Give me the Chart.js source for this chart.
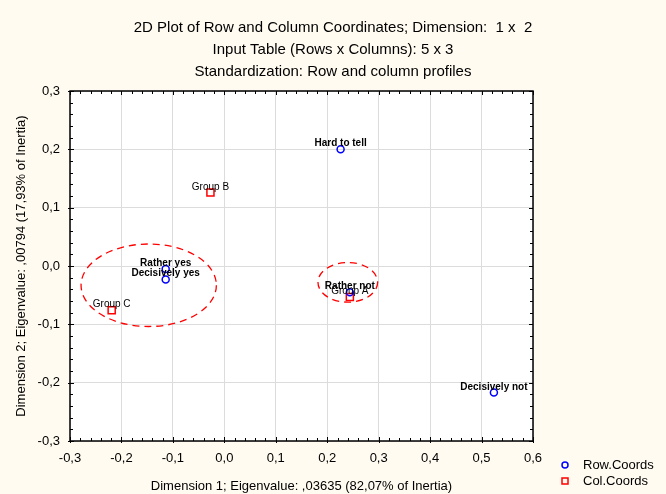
<!DOCTYPE html>
<html>
<head>
<meta charset="utf-8">
<script src="https://cdn.jsdelivr.net/npm/chart.js@4.4.1/dist/chart.umd.min.js"></script>
<style>
  body { margin: 0; background: #fffbf0; }
  #wrap { width: 666px; height: 494px; }
</style>
</head>
<body>
<div id="wrap"><canvas id="myChart" width="666" height="494"></canvas></div>
<script>
// row points (answers)
const rowLabels = ['Rather yes', 'Hard to tell', 'Rather not', 'Decisively yes', 'Decisively not'];
const rowX = [-0.114, 0.226, 0.244, -0.114, 0.524];
const rowY = [-0.005, 0.200, -0.045, -0.023, -0.217];

// column points (groups)
const colLabels = ['Group A', 'Group B', 'Group C'];
const colX = [0.244, -0.027, -0.219];
const colY = [-0.053, 0.126, -0.076];

// dashed ellipses (centre and radii, in data units)
const ellCx = [-0.147, 0.240];
const ellCy = [-0.033, -0.028];
const ellRx = [0.1315, 0.058];
const ellRy = [0.0707, 0.034];

const titleLines = [
  '2D Plot of Row and Column Coordinates; Dimension:  1 x  2',
  'Input Table (Rows x Columns): 5 x 3',
  'Standardization: Row and column profiles'
];
const xTitle = 'Dimension 1; Eigenvalue: ,03635 (82,07% of Inertia)';
const yTitle = 'Dimension 2; Eigenvalue: ,00794 (17,93% of Inertia)';
const legendNames = ['Row.Coords', 'Col.Coords'];

const FONT = 'Liberation Sans, Arial, sans-serif';
const fmt = v => (Math.round(v * 10) / 10).toFixed(1).replace('-0.0', '0.0').replace('.', ',');

const bgPlugin = {
  id: 'bg',
  beforeDraw(chart) {
    const ctx = chart.ctx, a = chart.chartArea;
    ctx.save();
    ctx.fillStyle = '#fffbf0';
    ctx.fillRect(0, 0, chart.width, chart.height);
    ctx.fillStyle = '#ffffff';
    ctx.fillRect(a.left, a.top, a.right - a.left, a.bottom - a.top);
    ctx.restore();
  }
};

const framePlugin = {
  id: 'frame',
  afterDatasetsDraw(chart) {
    const ctx = chart.ctx, a = chart.chartArea;
    const xs = chart.scales.x, ys = chart.scales.y;
    ctx.save();

    // ellipses
    ctx.strokeStyle = '#ff0000';
    ctx.lineWidth = 1.3;
    ctx.setLineDash([7, 5]);
    for (let i = 0; i < ellCx.length; i++) {
      const px = xs.getPixelForValue(ellCx[i]);
      const py = ys.getPixelForValue(ellCy[i]);
      const rx = Math.abs(xs.getPixelForValue(ellCx[i] + ellRx[i]) - px);
      const ry = Math.abs(ys.getPixelForValue(ellCy[i] + ellRy[i]) - py);
      ctx.beginPath();
      ctx.ellipse(px, py, rx, ry, 0, 0, Math.PI * 2);
      ctx.stroke();
    }
    ctx.setLineDash([]);

    // point labels
    ctx.fillStyle = '#000';
    ctx.textAlign = 'center';
    ctx.textBaseline = 'alphabetic';
    const sets = [rowLabels, colLabels];
    sets.forEach((labels, d) => {
      ctx.font = (d === 0 ? 'bold ' : '') + '10px ' + FONT;
      chart.getDatasetMeta(d).data.forEach((pt, j) => {
        ctx.fillText(labels[j], pt.x, pt.y - 3);
      });
    });

    // frame and ticks
    ctx.strokeStyle = '#000';
    ctx.lineWidth = 1;
    ctx.beginPath();
    for (let k = -30; k <= 60; k += 2) {
      const x = Math.round(xs.getPixelForValue(k / 100)) + 0.5;
      const len = k % 10 === 0 ? 4 : 3;
      ctx.moveTo(x, a.bottom); ctx.lineTo(x, a.bottom - len);
      ctx.moveTo(x, a.top); ctx.lineTo(x, a.top + len);
      if (k % 10 === 0) { ctx.moveTo(x, a.bottom); ctx.lineTo(x, a.bottom + 2); }
    }
    for (let k = -30; k <= 30; k += 2) {
      const y = Math.round(ys.getPixelForValue(k / 100)) + 0.5;
      const len = k % 10 === 0 ? 4 : 3;
      ctx.moveTo(a.left, y); ctx.lineTo(a.left + len, y);
      ctx.moveTo(a.right, y); ctx.lineTo(a.right - len, y);
      if (k % 10 === 0) { ctx.moveTo(a.left, y); ctx.lineTo(a.left - 2, y); }
    }
    ctx.stroke();
    ctx.lineWidth = 1.5;
    ctx.strokeRect(a.left, a.top, a.right - a.left, a.bottom - a.top);
    ctx.restore();
  },
  afterDraw(chart) {
    // legend, bottom right
    const ctx = chart.ctx, a = chart.chartArea;
    const lx = a.right + 32, ly = [465, 481];
    ctx.save();
    ctx.lineWidth = 1.5;
    ctx.strokeStyle = '#0000ff';
    ctx.beginPath();
    ctx.arc(lx, ly[0], 3, 0, Math.PI * 2);
    ctx.stroke();
    ctx.strokeStyle = '#ff0000';
    ctx.strokeRect(lx - 3, ly[1] - 3, 6, 6);
    ctx.fillStyle = '#000';
    ctx.font = '13px ' + FONT;
    ctx.textAlign = 'left';
    ctx.textBaseline = 'middle';
    legendNames.forEach((n, i) => ctx.fillText(n, lx + 18, ly[i]));
    ctx.restore();
  }
};

const ctx = document.getElementById('myChart').getContext('2d');
const myChart = new Chart(ctx, {
  type: 'scatter',
  data: {
    datasets: [{
      label: legendNames[0],
      data: rowX.map((x, i) => ({ x: x, y: rowY[i] })),
      pointStyle: 'circle',
      pointRadius: 3.5,
      borderColor: '#0000ff',
      backgroundColor: 'rgba(0,0,0,0)',
      borderWidth: 1.5
    }, {
      label: legendNames[1],
      data: colX.map((x, i) => ({ x: x, y: colY[i] })),
      pointStyle: 'rect',
      pointRadius: 5,
      borderColor: '#ff0000',
      backgroundColor: 'rgba(0,0,0,0)',
      borderWidth: 1.5
    }]
  },
  options: {
    responsive: false,
    animation: false,
    layout: { padding: 0 },
    plugins: {
      legend: { display: false },
      tooltip: { enabled: false },
      title: {
        display: true,
        text: titleLines,
        color: '#000',
        font: { family: FONT, size: 15, weight: 'normal', lineHeight: 22 / 15 },
        padding: { top: 17, bottom: 8 }
      }
    },
    scales: {
      x: {
        type: 'linear',
        position: 'bottom',
        min: -0.3, max: 0.6,
        ticks: { stepSize: 0.1, callback: fmt, padding: 10, color: '#000', maxRotation: 0, font: { family: FONT, size: 13 } },
        grid: { color: '#dcdcdc', drawTicks: false },
        border: { display: false },
        title: { display: true, text: xTitle, color: '#000', font: { family: FONT, size: 13 }, padding: { top: 2, bottom: 0 } },
        afterFit(s) { s.height = 53; }
      },
      y: {
        type: 'linear',
        position: 'left',
        min: -0.3, max: 0.3,
        ticks: { stepSize: 0.1, callback: fmt, padding: 10, color: '#000', font: { family: FONT, size: 13 } },
        grid: { color: '#dcdcdc', drawTicks: false },
        border: { display: false },
        title: { display: true, text: yTitle, color: '#000', font: { family: FONT, size: 13 }, padding: { top: 14, bottom: 0 } },
        afterFit(s) { s.width = 70; }
      },
      yR: {
        type: 'linear',
        position: 'right',
        ticks: { display: false },
        grid: { display: false },
        border: { display: false },
        afterFit(s) { s.width = 133; }
      }
    }
  },
  plugins: [bgPlugin, framePlugin]
});
</script>
</body>
</html>
